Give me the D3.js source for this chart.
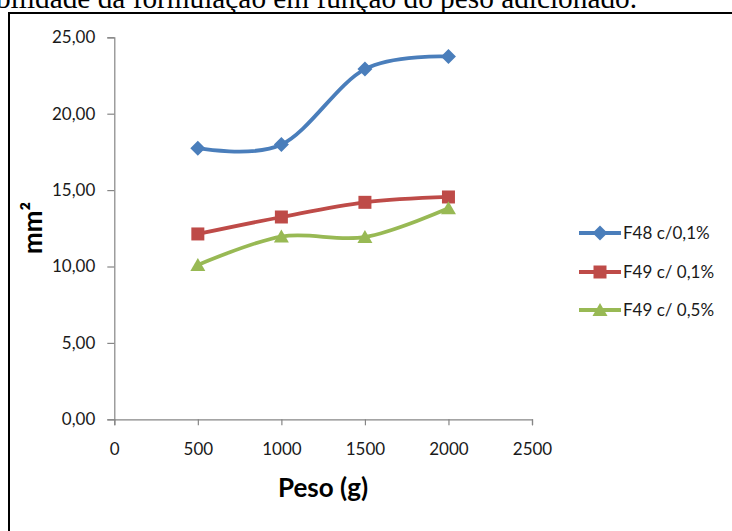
<!DOCTYPE html>
<html lang="pt">
    <head>
        <meta charset="utf-8">
        <title>Espalhabilidade</title>
        <style>
            body {
                margin: 0;
                background: #fff;
            }
            svg {
                display: block;
            }
        </style>
    </head>
    <body>
        <section id="chart"></section>
        <script src="https://d3js.org/d3.v7.min.js"></script>
        <script>
            const pesos = [500, 1000, 1500, 2000];
            const seriesNames = ["F48 c/0,1%", "F49 c/ 0,1%", "F49 c/ 0,5%"];
            const f48_01 = [17.74, 17.98, 22.92, 23.74];
            const f49_01 = [12.13, 13.24, 14.2, 14.55];
            const f49_05 = [10.1, 11.96, 11.93, 13.81];
            const xTicks = [0, 500, 1000, 1500, 2000, 2500];
            const yTicks = [0, 5, 10, 15, 20, 25];
            const colors = ["#4a7ebb", "#be4b48", "#98b954"];
            const shapes = ["diamond", "square", "triangle"];

            const w = 732;
            const h = 531;
            const fmt = d => d.toFixed(2).replace(".", ",");

            const svg = d3.select("#chart")
            .append("svg")
            .attr("width", w)
            .attr("height", h);

            // caption of the figure, cut by the top of the picture
            svg.append("text")
            .attr("x", 637)
            .attr("y", 8)
            .attr("text-anchor", "end")
            .attr("font-family", "Liberation Serif, serif")
            .attr("font-size", 29.3)
            .text("Espalhabilidade da formulação em função do peso adicionado.");

            // frame of the chart
            svg.append("path")
            .attr("d", "M9," + h + "V13H" + w)
            .attr("fill", "none")
            .attr("stroke", "#000")
            .attr("stroke-width", 2);

            const x = d3.scaleLinear().domain([0, 2500]).range([114.3, 532]);
            const y = d3.scaleLinear().domain([0, 25]).range([419.3, 37.3]);

            const yAxis = svg.append("g")
            .attr("transform", "translate(" + x(0) + ",0)")
            .call(d3.axisLeft(y).tickValues(yTicks).tickFormat(fmt).tickSizeOuter(0).tickSize(7).tickPadding(12));

            const xAxis = svg.append("g")
            .attr("transform", "translate(0," + y(0) + ")")
            .call(d3.axisBottom(x).tickValues(xTicks).tickFormat(d => d).tickSizeOuter(0).tickSize(6).tickPadding(18));

            [xAxis, yAxis].forEach(a => {
                a.select(".domain").attr("stroke", "#868686").attr("stroke-width", 1.2);
                a.selectAll(".tick line").attr("stroke", "#868686").attr("stroke-width", 1.2);
                a.selectAll(".tick text")
                .attr("fill", "#1a1a1a")
                .attr("font-family", "Lato, sans-serif")
                .attr("font-size", 17);
            });

            svg.append("text")
            .attr("transform", "translate(42,228) rotate(-90)")
            .attr("text-anchor", "middle")
            .attr("font-family", "Lato, sans-serif")
            .attr("font-weight", "bold")
            .attr("font-size", 26)
            .text("mm²");

            svg.append("text")
            .attr("x", 323)
            .attr("y", 497)
            .attr("text-anchor", "middle")
            .attr("font-family", "Lato, sans-serif")
            .attr("font-weight", "bold")
            .attr("font-size", 26)
            .text("Peso (g)");

            function marker(shape) {
                if (shape == "diamond") return "M0,-7.5L7.5,0L0,7.5L-7.5,0Z";
                if (shape == "square") return "M-6.5,-6.5H6.5V6.5H-6.5Z";
                return "M0,-7L7.5,6H-7.5Z";
            }

            const line = d3.line()
            .x(d => x(d[0]))
            .y(d => y(d[1]))
            .curve(d3.curveCardinal.tension(0));

            const allSeries = [f48_01, f49_01, f49_05];

            allSeries.forEach((vals, i) => {
                const pts = pesos.map((p, j) => [p, vals[j]]);
                svg.append("path")
                .attr("d", line(pts))
                .attr("fill", "none")
                .attr("stroke", colors[i])
                .attr("stroke-width", 3.8)
                .attr("stroke-linecap", "round");

                svg.selectAll(".m" + i)
                .data(pts)
                .enter()
                .append("path")
                .attr("class", "m" + i)
                .attr("transform", d => "translate(" + x(d[0]) + "," + y(d[1]) + ")")
                .attr("d", marker(shapes[i]))
                .attr("fill", colors[i]);
            });

            // legend
            const legend = svg.append("g");
            const rowY = [233, 272, 310];
            seriesNames.forEach((name, i) => {
                legend.append("line")
                .attr("x1", 579)
                .attr("x2", 621)
                .attr("y1", rowY[i])
                .attr("y2", rowY[i])
                .attr("stroke", colors[i])
                .attr("stroke-width", 3.8);

                legend.append("path")
                .attr("transform", "translate(600," + rowY[i] + ")")
                .attr("d", marker(shapes[i]))
                .attr("fill", colors[i]);

                legend.append("text")
                .attr("x", 623)
                .attr("y", rowY[i])
                .attr("dy", "0.35em")
                .attr("fill", "#1a1a1a")
                .attr("font-family", "Lato, sans-serif")
                .attr("font-size", 17)
                .text(name);
            });
        </script>
    </body>
</html>
